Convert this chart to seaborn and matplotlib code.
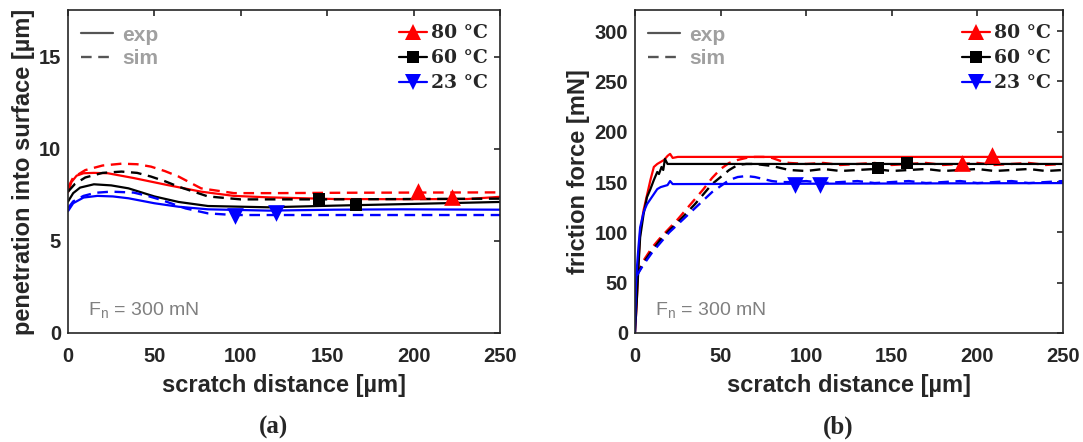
import matplotlib
matplotlib.use("Agg")
import matplotlib.pyplot as plt
from matplotlib.lines import Line2D
import seaborn as sns

# ---------------- data: panel (a) penetration ----------------
pen_exp80_x = [0, 2, 5, 9, 15, 23, 38, 57, 77, 96, 116, 154, 193, 231, 250]
pen_exp80_y = [7.65, 8.2, 8.55, 8.68, 8.7, 8.68, 8.42, 8.05, 7.68, 7.45, 7.37, 7.28, 7.27, 7.28, 7.4]
pen_sim80_x = [0, 3, 10, 20, 31, 40, 48, 56, 64, 77, 96, 120, 160, 200, 250]
pen_sim80_y = [7.9, 8.45, 8.85, 9.1, 9.2, 9.17, 9.04, 8.8, 8.5, 7.86, 7.6, 7.6, 7.62, 7.63, 7.64]
pen_exp60_x = [0, 3, 7, 15, 25, 35, 50, 64, 81, 116, 154, 193, 250]
pen_exp60_y = [7.14, 7.6, 7.9, 8.08, 8.02, 7.86, 7.42, 7.12, 6.9, 6.83, 6.92, 7.0, 7.12]
pen_sim60_x = [0, 4, 10, 20, 31, 40, 48, 56, 64, 81, 100, 150, 200, 250]
pen_sim60_y = [7.68, 8.1, 8.45, 8.7, 8.77, 8.7, 8.5, 8.25, 7.95, 7.42, 7.26, 7.26, 7.28, 7.3]
pen_exp23_x = [0, 3, 9, 17, 26, 35, 50, 64, 81, 116, 154, 193, 250]
pen_exp23_y = [6.62, 7.05, 7.36, 7.45, 7.42, 7.32, 7.05, 6.86, 6.72, 6.65, 6.7, 6.72, 6.7]
pen_sim23_x = [0, 3, 9, 16, 25, 38, 46, 54, 61, 68, 81, 96, 150, 200, 250]
pen_sim23_y = [6.78, 7.15, 7.45, 7.62, 7.68, 7.63, 7.45, 7.23, 7.0, 6.77, 6.5, 6.41, 6.41, 6.41, 6.41]
pen_mark80_x = [202.7, 222.0]
pen_mark80_y = [7.72, 7.41]
pen_mark60_x = [145.3, 166.5]
pen_mark60_y = [7.26, 6.96]
pen_mark23_x = [96.4, 120.4]
pen_mark23_y = [6.36, 6.54]

# ---------------- data: panel (b) friction force ----------------
fr_exp80_x = [0, 1, 2, 3, 5, 7, 9, 11, 13, 15, 17, 19, 20.5, 22, 25, 250]
fr_exp80_y = [0, 30, 70, 100, 122, 137, 152, 165, 168, 170, 172, 176, 178, 174, 175, 175]
fr_exp60_x = [0, 1, 2, 3, 5, 7, 9, 11, 13, 14, 15.5, 16.5, 17.5, 19, 250]
fr_exp60_y = [0, 30, 65, 95, 118, 135, 143, 152, 160, 158, 165, 162, 173, 168, 168]
fr_exp23_x = [0, 0.5, 1, 2, 3, 5, 7, 9, 11, 13, 15, 17, 19, 20.5, 22, 250]
fr_exp23_y = [0, 45, 62, 85, 105, 120, 128, 133, 138, 143, 145, 146, 147, 151, 148, 149]
fr_sim80_x = [1, 5, 10, 15, 20, 25, 30, 35, 40, 45, 50, 55, 60, 65, 70, 75, 80, 85, 90, 100,
              110, 120, 130, 140, 150, 160, 170, 180, 190, 200, 210, 220, 230, 240, 250]
fr_sim80_y = [57, 72, 85, 95, 104, 113, 123, 133, 143, 154, 163, 169, 172, 174, 175, 175, 174, 171, 169, 168,
              169, 167, 168, 169, 167, 168, 169, 167, 168, 169, 167, 168, 169, 167, 168]
fr_sim60_x = [1, 5, 10, 15, 20, 25, 30, 35, 40, 45, 50, 55, 60, 65, 70, 75, 80, 85, 90, 100,
              110, 120, 130, 140, 150, 160, 170, 180, 190, 200, 210, 220, 230, 240, 250]
fr_sim60_y = [57, 70, 82, 93, 102, 110, 119, 128, 138, 148, 155, 162, 167, 168, 168, 167, 166, 164, 162, 161,
              163, 161, 162, 163, 161, 162, 163, 161, 162, 163, 161, 162, 163, 161, 162]
fr_sim23_x = [1, 5, 10, 15, 20, 25, 30, 35, 40, 45, 50, 55, 60, 65, 70, 75, 80, 85, 90, 100,
              110, 120, 130, 140, 150, 160, 170, 180, 190, 200, 210, 220, 230, 240, 250]
fr_sim23_y = [57, 68, 80, 90, 100, 108, 116, 124, 132, 140, 146, 152, 155, 156, 155, 153, 151, 150, 150, 151,
              149, 150, 151, 149, 150, 151, 149, 150, 151, 149, 150, 151, 149, 150, 151]
fr_mark80_x = [190.8, 208.3]
fr_mark80_y = [169, 176.8]
fr_mark60_x = [142.0, 159.0]
fr_mark60_y = [163.5, 168.5]
fr_mark23_x = [93.5, 108.1]
fr_mark23_y = [147, 147]

temps = ["80", "60", "23"]
colors = {"80": "#ff0000", "60": "#000000", "23": "#0000ff"}
markers = {"80": "^", "60": "s", "23": "v"}
msizes = {"80": 12, "60": 9, "23": 12}

# ---------------- style ----------------
sns.set_theme(style="white")
plt.rcParams["font.family"] = ["Liberation Sans", "DejaVu Sans"]
plt.rcParams["axes.edgecolor"] = "#262626"
plt.rcParams["axes.linewidth"] = 1.2

fig = plt.figure(figsize=(10.83, 4.42), dpi=100)
axA = fig.add_axes([68 / 1083, 1 - 333 / 442, 432 / 1083, 323 / 442])
axB = fig.add_axes([635 / 1083, 1 - 333 / 442, 428 / 1083, 323 / 442])

dash = (4.5, 2.8)


def draw(ax, exp, sim, marks):
    for t in temps:
        ex, ey = exp[t]
        sx, sy = sim[t]
        sns.lineplot(x=ex, y=ey, ax=ax, color=colors[t], lw=1.6, estimator=None, sort=False)
        sns.lineplot(x=sx, y=sy, ax=ax, color=colors[t], lw=1.7, estimator=None, sort=False,
                     linestyle=(0, dash))
    for t in temps:
        mx, my = marks[t]
        sns.scatterplot(x=mx, y=my, ax=ax, color=colors[t], marker=markers[t],
                        s=msizes[t] ** 2, edgecolor=colors[t], linewidth=0, zorder=5)


draw(axA,
     {"80": (pen_exp80_x, pen_exp80_y), "60": (pen_exp60_x, pen_exp60_y), "23": (pen_exp23_x, pen_exp23_y)},
     {"80": (pen_sim80_x, pen_sim80_y), "60": (pen_sim60_x, pen_sim60_y), "23": (pen_sim23_x, pen_sim23_y)},
     {"80": (pen_mark80_x, pen_mark80_y), "60": (pen_mark60_x, pen_mark60_y), "23": (pen_mark23_x, pen_mark23_y)})
draw(axB,
     {"80": (fr_exp80_x, fr_exp80_y), "60": (fr_exp60_x, fr_exp60_y), "23": (fr_exp23_x, fr_exp23_y)},
     {"80": (fr_sim80_x, fr_sim80_y), "60": (fr_sim60_x, fr_sim60_y), "23": (fr_sim23_x, fr_sim23_y)},
     {"80": (fr_mark80_x, fr_mark80_y), "60": (fr_mark60_x, fr_mark60_y), "23": (fr_mark23_x, fr_mark23_y)})

axA.set_xlim(0, 250)
axA.set_ylim(0, 17.55)
axA.set_yticks([0, 5, 10, 15])
axB.set_xlim(0, 250)
axB.set_ylim(0, 321)
axB.set_yticks([0, 50, 100, 150, 200, 250, 300])

for ax, ylab in [(axA, "penetration into surface [µm]"), (axB, "friction force [mN]")]:
    ax.set_xticks([0, 50, 100, 150, 200, 250])
    ax.tick_params(direction="in", length=4.5, width=1.2, top=True, right=True,
                   labelsize=14.5, colors="#262626")
    ax.tick_params(axis="x", pad=10)
    ax.tick_params(axis="y", pad=5)
    for lab in ax.get_xticklabels() + ax.get_yticklabels():
        lab.set_fontweight("bold")
    ax.set_xlabel("scratch distance [µm]", fontsize=17, fontweight="bold", color="#262626", labelpad=6)
    ax.set_ylabel(ylab, fontsize=17, fontweight="bold", color="#262626", labelpad=3)
    for sp in ax.spines.values():
        sp.set_visible(True)
    ax.text(0.046, 0.053, r"F$_\mathregular{n}$ = 300 mN", transform=ax.transAxes,
            fontsize=14, color="#808080", ha="left", va="baseline")

    h1 = [Line2D([], [], color="#555555", lw=1.6),
          Line2D([], [], color="#555555", lw=1.7, linestyle=(0, dash))]
    leg1 = ax.legend(h1, ["exp", "sim"], loc="upper left", bbox_to_anchor=(-0.012, 1.006),
                     frameon=False, handlelength=1.55, handletextpad=0.45, labelspacing=0.2,
                     borderaxespad=0.45, prop={"family": "Liberation Sans", "weight": "bold", "size": 15},
                     labelcolor="#a0a0a0")
    ax.add_artist(leg1)
    h2 = [Line2D([], [], color=colors[t], lw=1.6, marker=markers[t], markersize=msizes[t],
                 markeredgewidth=0) for t in temps]
    l2 = ["%s °C" % t for t in temps]
    ax.legend(h2, l2, loc="upper right", bbox_to_anchor=(1.005, 1.0), frameon=False,
              handlelength=1.45, handletextpad=0.25, labelspacing=0.38, borderaxespad=0.35,
              prop={"family": "DejaVu Serif", "weight": "bold", "size": 13.5})

fig.text(273 / 1083, 1 - 427 / 442, "(a)", fontsize=18, fontweight="bold",
         family="Liberation Serif", ha="center", va="center")
fig.text(838 / 1083, 1 - 427 / 442, "(b)", fontsize=18, fontweight="bold",
         family="Liberation Serif", ha="center", va="center")

fig.savefig("out.png", dpi=100)
